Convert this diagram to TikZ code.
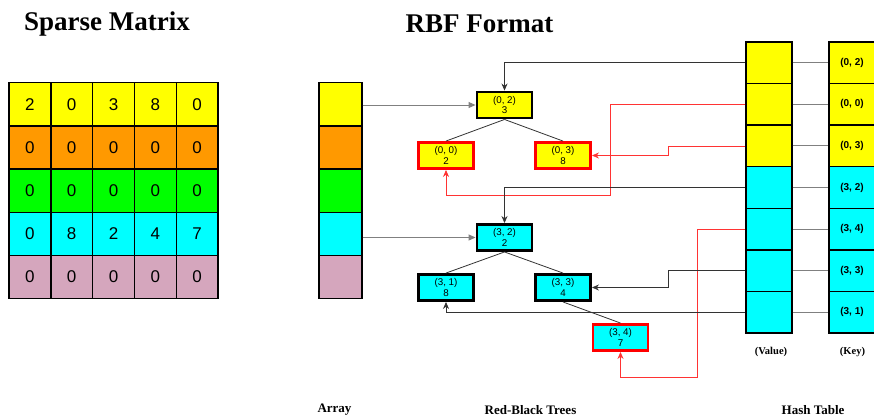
\documentclass[tikz,border=0pt]{standalone}
\usepackage{fontspec}
\setmainfont{Liberation Serif}
\setsansfont{Liberation Sans}
\usetikzlibrary{arrows.meta,calc}
\definecolor{cyel}{HTML}{FFFF00}
\definecolor{corg}{HTML}{FF9900}
\definecolor{cgrn}{HTML}{00FF00}
\definecolor{ccyn}{HTML}{00FFFF}
\definecolor{cpnk}{HTML}{D5A6BD}
\definecolor{cred}{HTML}{FF0000}
\definecolor{lred}{HTML}{FF3333}
\definecolor{lgry}{HTML}{808080}
\definecolor{ldark}{HTML}{333333}
\tikzset{
  mcell/.style={rectangle,draw=black,line width=1.4pt,minimum width=41.8pt,minimum height=43.2pt,inner sep=0pt,font=\sffamily\fontsize{17}{17}\selectfont},
  acell/.style={rectangle,draw=black,line width=1.4pt,minimum width=43pt,minimum height=43.2pt,inner sep=0pt},
  hcell/.style={rectangle,draw=black,line width=1.4pt,minimum width=46pt,minimum height=41.57pt,inner sep=0pt,font=\sffamily\bfseries\fontsize{10}{10}\selectfont},
  tnode/.style={rectangle,draw=black,line width=2.9pt,minimum width=55pt,minimum height=26pt,inner sep=0pt,align=center,font=\sffamily\fontsize{9.8}{10.5}\selectfont},
  rnode/.style={tnode,draw=cred},
  title/.style={font=\bfseries\fontsize{27}{27}\selectfont},
  label/.style={font=\bfseries\fontsize{13}{13}\selectfont},
  slabel/.style={font=\bfseries\fontsize{10.5}{10.5}\selectfont},
  blk/.style={draw=ldark,line width=0.8pt,-{Stealth[length=7pt,width=6pt]}},
  rdl/.style={draw=lred,line width=0.8pt,-{Stealth[length=7pt,width=6pt]}},
  gry/.style={draw=lgry,line width=0.9pt,-{Triangle[length=7pt,width=6pt]}},
  kv/.style={draw=lgry,line width=0.9pt},
  tedge/.style={draw=ldark,line width=0.8pt}
}
\begin{document}
\begin{tikzpicture}[x=1pt,y=-1pt]
\useasboundingbox[fill=white] (0,0) rectangle (874,418);
% titles
\node[title] (t1) at (107,24) {Sparse Matrix};
\node[title] (t2) at (479.5,24) {RBF Format};
% sparse matrix
\foreach \r/\col/\vals in {1/cyel/{2,0,3,8,0},2/corg/{0,0,0,0,0},3/cgrn/{0,0,0,0,0},4/ccyn/{0,8,2,4,7},5/cpnk/{0,0,0,0,0}}{
  \foreach \v [count=\c] in \vals {
    \node[mcell,fill=\col] (m\r\c) at ({9+41.8*(\c-0.5)},{82.7+43.2*(\r-0.5)}) {\v};
  }
}
% array
\foreach \r/\col in {1/cyel,2/corg,3/cgrn,4/ccyn,5/cpnk}{
  \node[acell,fill=\col] (a\r) at (340.5,{82.7+43.2*(\r-0.5)}) {};
}
% tree nodes
\node[tnode,fill=cyel] (t02) at (504.5,105) {(0, 2)\\3};
\node[rnode,fill=cyel] (t00) at (446,155.5) {(0, 0)\\2};
\node[rnode,fill=cyel] (t03) at (563,155.5) {(0, 3)\\8};
\node[tnode,fill=ccyn] (t32) at (504.5,237.5) {(3, 2)\\2};
\node[tnode,fill=ccyn] (t31) at (446,287.5) {(3, 1)\\8};
\node[tnode,fill=ccyn] (t33) at (563,287.5) {(3, 3)\\4};
\node[rnode,fill=ccyn] (t34) at (620.5,337.5) {(3, 4)\\7};
% tree edges
\draw[tedge] (t02.south) -- (t00.north);
\draw[tedge] (t02.south) -- (t03.north);
\draw[tedge] (t32.south) -- (t31.north);
\draw[tedge] (t32.south) -- (t33.north);
\draw[tedge] (t33.south) -- (t34.north);
% hash table
\foreach \r/\col/\k in {1/cyel/{(0, 2)},2/cyel/{(0, 0)},3/cyel/{(0, 3)},4/ccyn/{(3, 2)},5/ccyn/{(3, 4)},6/ccyn/{(3, 3)},7/ccyn/{(3, 1)}}{
  \node[hcell,fill=\col] (v\r) at (769,{42+41.57*(\r-0.5)}) {};
  \node[hcell,fill=\col] (k\r) at (852,{42+41.57*(\r-0.5)}) {\k};
  \draw[kv] (v\r.east) -- (k\r.west);
}
% array arrows
\draw[gry] (a1.east |- t02.west) -- (t02.west);
\draw[gry] (a4.east |- t32.west) -- (t32.west);
% hash to tree connectors
\draw[blk] (v1.west) -| (t02.north);
\draw[rdl] (v2.west) -| (610,195) -| (t00.south);
\draw[rdl] (v3.west) -| ($(t03.east)+(76,0)$) -- (t03.east);
\draw[blk] (v4.west) -| (t32.north);
\draw[rdl] (v5.west) -| (697,377) -| (t34.south);
\draw[blk] (v6.west) -| ($(t33.east)+(76,0)$) -- (t33.east);
\draw[blk] (v7.west) -| (t31.south);
% labels
\node[slabel] (lv) at (771,352) {(Value)};
\node[slabel] (lk) at (852.5,352) {(Key)};
\node[label] (la) at (334.5,410) {Array};
\node[label] (lr) at (530.5,410) {Red-Black Trees};
\node[label] (lh) at (813,410) {Hash Table};
\end{tikzpicture}
\end{document}
